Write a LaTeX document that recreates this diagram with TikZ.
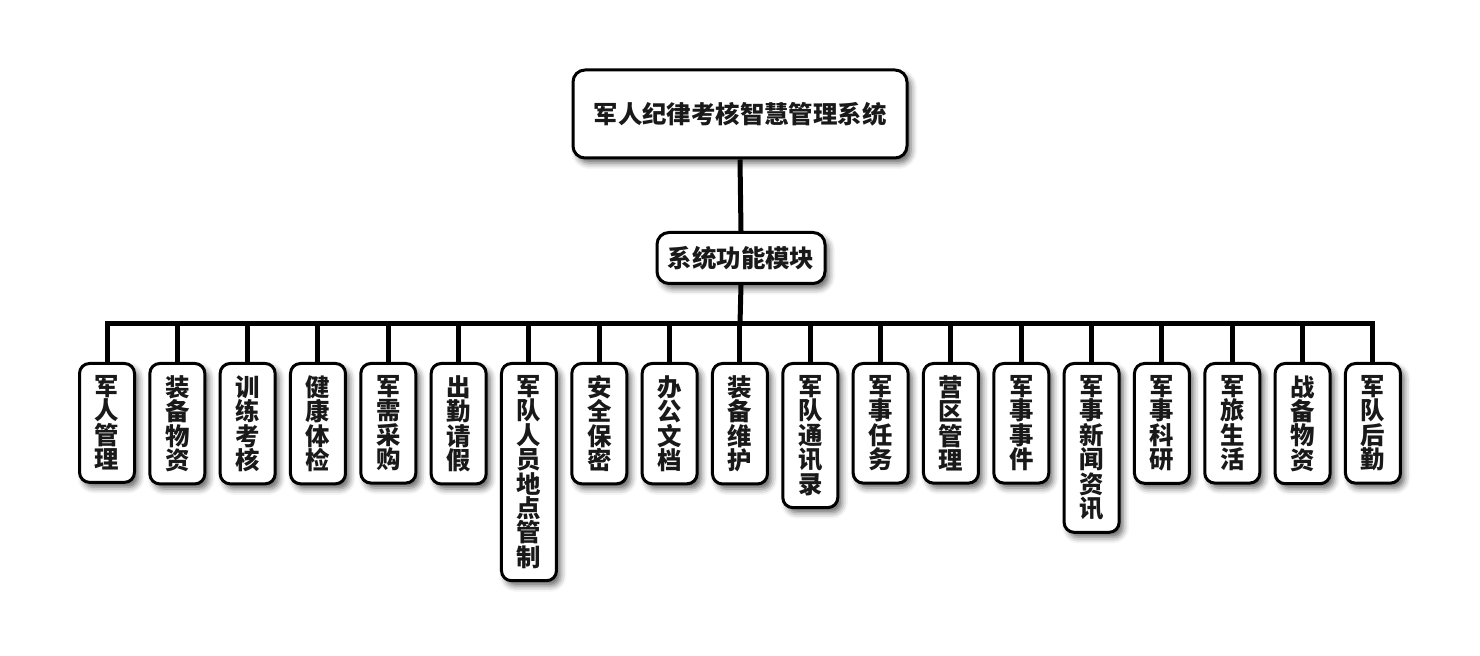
\documentclass[tikz,border=0pt]{standalone}
\usepackage{fontspec}
\newfontfamily\cjk{Noto Sans CJK SC}
\usepackage{tikz}
\usetikzlibrary{shadows.blur}

\begin{document}
\begin{tikzpicture}[x=0.5pt, y=-0.5pt,
    box/.style={draw=black, line width=1.5pt, fill=white, rounded corners=6pt,
        blur shadow={shadow xshift=2pt, shadow yshift=-2.5pt, shadow blur radius=3pt, shadow opacity=60},
        font=\cjk\bfseries\fontsize{12.2}{12.2}\selectfont, text=black!90},
    leaf/.style={box, anchor=north, align=center, minimum width=27.5pt, inner xsep=0pt, inner ysep=6pt, rounded corners=5pt},
    link/.style={line width=2.5pt}]
\useasboundingbox (0,0) rectangle (1480,656);
% top of the tree
\node[box, minimum width=167pt, minimum height=44pt] (root) at (740,114) {军人纪律考核智慧管理系统};
\node[box, minimum width=84pt, minimum height=25.5pt, inner sep=0pt] (mid) at (741,258) {系统功能模块};
\coordinate (bus) at (740,324);
% modules
\foreach \t [count=\i from 0] in {
    {军\\人\\管\\理}, {装\\备\\物\\资}, {训\\练\\考\\核}, {健\\康\\体\\检},
    {军\\需\\采\\购}, {出\\勤\\请\\假},
    {\fontsize{12.2}{14.2}\selectfont 军\\队\\人\\员\\地\\点\\管\\制},
    {安\\全\\保\\密}, {办\\公\\文\\档}, {装\\备\\维\\护}, {军\\队\\通\\讯\\录},
    {军\\事\\任\\务}, {营\\区\\管\\理}, {军\\事\\事\\件}, {军\\事\\新\\闻\\资\\讯},
    {军\\事\\科\\研}, {军\\旅\\生\\活}, {战\\备\\物\\资}, {军\\队\\后\\勤}}
    \node[leaf] (l\i) at (107+70.33*\i, 362) {\t};
% connectors
\draw[link] (root.south) -- (mid.north);
\draw[link] (mid.south) -- (bus);
\draw[link, line cap=rect] (l0.north |- bus) -- (l18.north |- bus);
\foreach \i in {0,...,18}
    \draw[link] (l\i.north) -- (l\i.north |- bus);
\end{tikzpicture}
\end{document}
